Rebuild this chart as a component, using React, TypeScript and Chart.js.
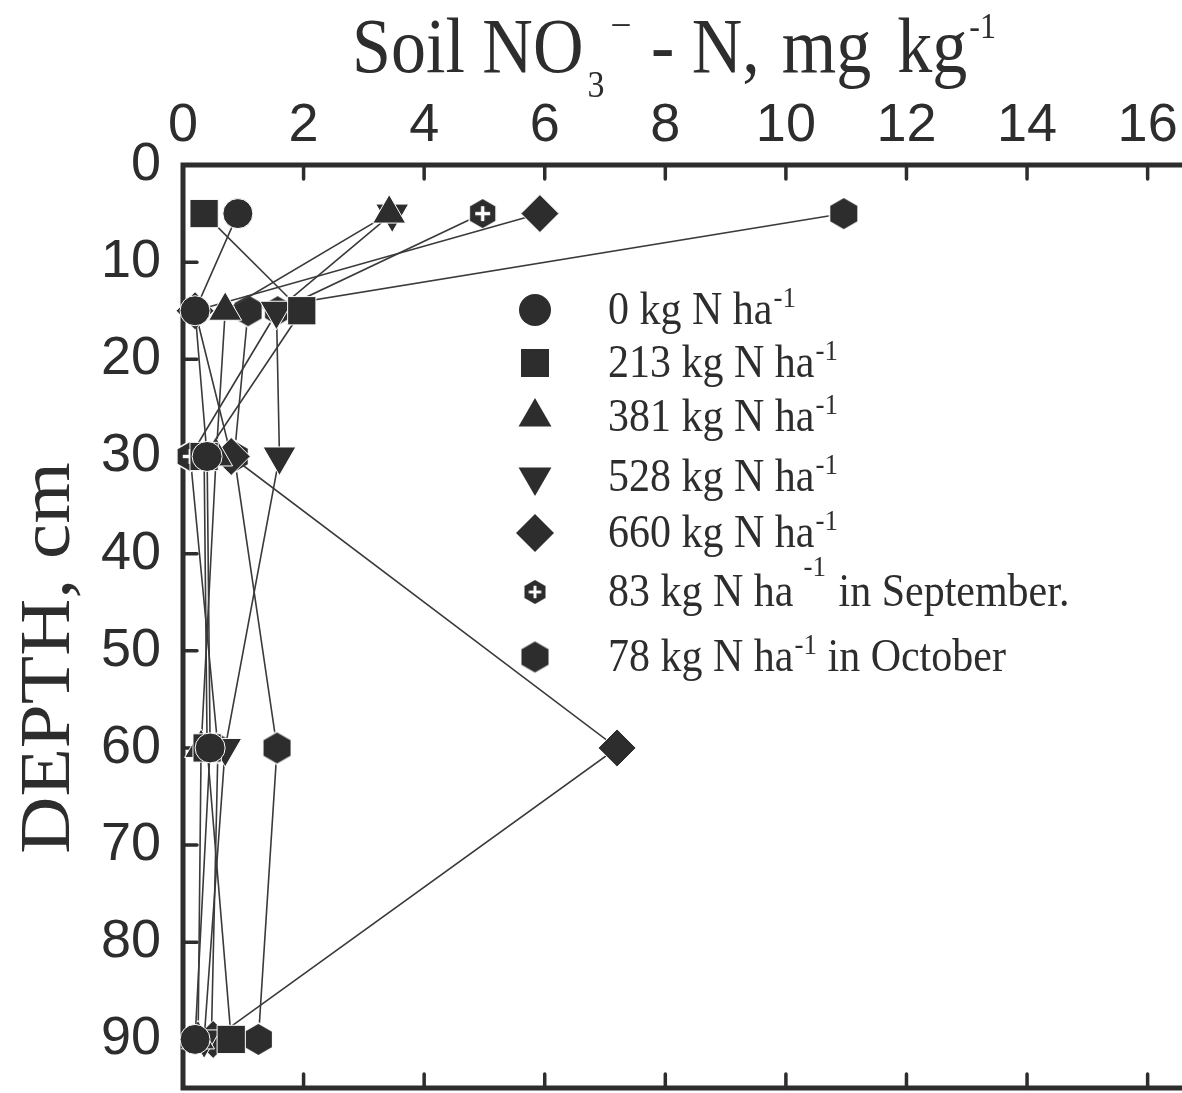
import React, { useEffect, useRef } from 'react';
import { Chart, registerables } from 'chart.js';

Chart.register(...registerables);

// ---------------- data ----------------
const depths = [5, 15, 30, 60, 90];
const xTickStep = 2;
const yTickStep = 10;
const xMin = 0;
const xMaxShown = 16;
const yMax = 95;

const seriesNames = [
  '0 kg N ha',
  '213 kg N ha',
  '381 kg N ha',
  '528 kg N ha',
  '660 kg N ha',
  '83 kg N ha',
  '78 kg N ha',
];
const seriesTails = ['', '', '', '', '', ' in September.', ' in October'];

const n0 = [0.91, 0.2, 0.4, 0.45, 0.2];
const n213 = [0.35, 1.97, 0.35, 0.4, 0.8];
const n381 = [3.42, 0.7, 0.55, 0.3, 0.25];
const n528 = [3.47, 1.55, 1.6, 0.7, 0.35];
const n660 = [5.92, 0.2, 0.8, 7.2, 0.5];
const n83Sep = [4.97, 1.57, 0.12, 0.58, 0.47];
const n78Oct = [10.96, 1.08, 0.85, 1.56, 1.25];

const seriesValues = [n0, n213, n381, n528, n660, n83Sep, n78Oct];

// ---------------- style ----------------
const INK = '#2d2d2d';
const LINE = '#3a3a3a';
const SERIF = "'Liberation Serif', 'Times New Roman', serif";
const SANS = "'Liberation Sans', Arial, sans-serif";

function makeHex(h: number, plus: boolean): HTMLCanvasElement {
  const w = (Math.sqrt(3) / 2) * h;
  const pad = 3;
  const c = document.createElement('canvas');
  c.width = Math.ceil(w + pad * 2);
  c.height = Math.ceil(h + pad * 2);
  const ctx = c.getContext('2d')!;
  const cx = c.width / 2;
  const cy = c.height / 2;
  ctx.beginPath();
  ctx.moveTo(cx, cy - h / 2);
  ctx.lineTo(cx + w / 2, cy - h / 4);
  ctx.lineTo(cx + w / 2, cy + h / 4);
  ctx.lineTo(cx, cy + h / 2);
  ctx.lineTo(cx - w / 2, cy + h / 4);
  ctx.lineTo(cx - w / 2, cy - h / 4);
  ctx.closePath();
  ctx.fillStyle = INK;
  ctx.fill();
  ctx.strokeStyle = '#ffffff';
  ctx.lineWidth = 1.5;
  ctx.stroke();
  if (plus) {
    const arm = h * 0.24;
    const t = Math.max(2.5, h * 0.11);
    ctx.fillStyle = '#ffffff';
    ctx.fillRect(cx - arm, cy - t / 2, arm * 2, t);
    ctx.fillRect(cx - t / 2, cy - arm, t, arm * 2);
  }
  return c;
}

type Part = { text: string; size: number; dy: number; gap?: number };

function drawParts(ctx: CanvasRenderingContext2D, parts: Part[], x: number, baseline: number, sy: number) {
  ctx.save();
  ctx.translate(x, baseline);
  ctx.scale(1, sy);
  ctx.fillStyle = INK;
  ctx.textBaseline = 'alphabetic';
  ctx.textAlign = 'left';
  let cx = 0;
  for (const p of parts) {
    cx += p.gap || 0;
    ctx.font = `${p.size}px ${SERIF}`;
    ctx.fillText(p.text, cx, p.dy);
    cx += ctx.measureText(p.text).width;
  }
  ctx.restore();
}

function drawLegendMarker(ctx: CanvasRenderingContext2D, i: number, x: number, y: number, hexPlusSmall: HTMLCanvasElement, hexLegend: HTMLCanvasElement) {
  ctx.save();
  ctx.fillStyle = INK;
  ctx.beginPath();
  if (i === 0) {
    ctx.arc(x, y, 16, 0, Math.PI * 2);
    ctx.fill();
  } else if (i === 1) {
    ctx.fillRect(x - 14, y - 14, 28, 28);
  } else if (i === 2) {
    const r = 19;
    ctx.moveTo(x, y - r);
    ctx.lineTo(x + r * 0.866, y + r * 0.5);
    ctx.lineTo(x - r * 0.866, y + r * 0.5);
    ctx.closePath();
    ctx.fill();
  } else if (i === 3) {
    const r = 19;
    ctx.moveTo(x, y + r);
    ctx.lineTo(x + r * 0.866, y - r * 0.5);
    ctx.lineTo(x - r * 0.866, y - r * 0.5);
    ctx.closePath();
    ctx.fill();
  } else if (i === 4) {
    const r = 19;
    ctx.moveTo(x, y - r);
    ctx.lineTo(x + r, y);
    ctx.lineTo(x, y + r);
    ctx.lineTo(x - r, y);
    ctx.closePath();
    ctx.fill();
  } else if (i === 5) {
    ctx.drawImage(hexPlusSmall, x - hexPlusSmall.width / 2, y - hexPlusSmall.height / 2);
  } else {
    ctx.drawImage(hexLegend, x - hexLegend.width / 2, y - hexLegend.height / 2);
  }
  ctx.restore();
}

export default function App() {
  const ref = useRef<HTMLCanvasElement | null>(null);

  useEffect(() => {
    document.body.style.margin = '0';
    document.body.style.background = '#ffffff';
    const canvas = ref.current;
    if (!canvas) return;

    const hexPlus = makeHex(31, true);
    const hexDark = makeHex(33, false);
    const hexPlusSmall = makeHex(26, true);
    const hexLegend = makeHex(33, false);

    const pointStyles: any[] = ['circle', 'rect', 'triangle', 'triangle', 'rectRot', hexPlus, hexDark];
    const pointRadii = [15, 20, 19, 19, 19, 15, 15];
    const pointRotations = [0, 0, 0, 180, 0, 0, 0];

    const datasets = seriesValues.map((vals, i) => ({
      label: seriesNames[i] + seriesTails[i],
      data: vals.map((v, k) => ({ x: v, y: depths[k] })),
      showLine: true,
      borderColor: LINE,
      borderWidth: 1.6,
      backgroundColor: INK,
      pointBackgroundColor: INK,
      pointBorderColor: '#ffffff',
      pointBorderWidth: 1,
      pointStyle: pointStyles[i],
      pointRadius: pointRadii[i],
      pointRotation: pointRotations[i],
      pointHoverRadius: pointRadii[i],
      tension: 0,
      clip: false,
    }));

    const framePlugin = {
      id: 'frame',
      beforeDatasetsDraw(chart: any) {
        const { ctx, chartArea } = chart;
        const xs = chart.scales.x;
        const ys = chart.scales.y;
        ctx.save();
        ctx.strokeStyle = INK;
        ctx.lineWidth = 5;
        ctx.lineCap = 'square';
        ctx.beginPath();
        ctx.moveTo(chartArea.right + 5, chartArea.top);
        ctx.lineTo(chartArea.left, chartArea.top);
        ctx.lineTo(chartArea.left, chartArea.bottom);
        ctx.lineTo(chartArea.right + 5, chartArea.bottom);
        ctx.stroke();
        ctx.lineWidth = 3.5;
        ctx.lineCap = 'round';
        ctx.beginPath();
        for (const t of xs.ticks) {
          if (t.value <= xMin || t.value > xMaxShown) continue;
          const px = xs.getPixelForValue(t.value);
          ctx.moveTo(px, chartArea.top);
          ctx.lineTo(px, chartArea.top + 14);
          ctx.moveTo(px, chartArea.bottom);
          ctx.lineTo(px, chartArea.bottom - 14);
        }
        for (const t of ys.ticks) {
          if (t.value <= 0) continue;
          const py = ys.getPixelForValue(t.value);
          ctx.moveTo(chartArea.left, py);
          ctx.lineTo(chartArea.left + 14, py);
        }
        ctx.stroke();
        ctx.restore();
      },
    };

    const textPlugin = {
      id: 'texts',
      afterDraw(chart: any) {
        const ctx: CanvasRenderingContext2D = chart.ctx;
        // Title above the top axis
        drawParts(
          ctx,
          [
            { text: 'Soil NO', size: 70, dy: 0 },
            { text: '3', size: 34, dy: 22, gap: 4 },
            { text: '\u2013', size: 34, dy: -34, gap: 8 },
            { text: ' - N,', size: 70, dy: 0, gap: 4 },
            { text: 'mg', size: 70, dy: 0, gap: 22 },
            { text: 'kg', size: 70, dy: 0, gap: 26 },
            { text: '-1', size: 32, dy: -30, gap: 2 },
          ],
          352,
          72,
          1.12
        );
        // Y axis title
        ctx.save();
        ctx.translate(50, 658);
        ctx.rotate(-Math.PI / 2);
        ctx.scale(1.1, 1);
        ctx.fillStyle = INK;
        ctx.font = `72px ${SERIF}`;
        ctx.textAlign = 'center';
        ctx.textBaseline = 'middle';
        ctx.fillText('DEPTH, cm', 0, 0);
        ctx.restore();
        // Legend
        const rows = [310, 363, 417, 477, 533, 592, 657];
        const mx = 535;
        const tx = 608;
        seriesNames.forEach((name, i) => {
          const y = rows[i];
          drawLegendMarker(ctx, i, mx, y, hexPlusSmall, hexLegend);
          const parts: Part[] = [{ text: name, size: 42, dy: 0 }];
          if (i === 5) {
            parts.push({ text: '-1', size: 27, dy: -27, gap: 10 });
          } else {
            parts.push({ text: '-1', size: 27, dy: -15, gap: 1 });
          }
          if (seriesTails[i]) parts.push({ text: seriesTails[i], size: 42, dy: 0, gap: i === 5 ? 2 : 0 });
          drawParts(ctx, parts, tx, y + 14, 1.12);
        });
      },
    };

    const chart = new Chart(canvas, {
      type: 'scatter',
      data: { datasets: datasets as any },
      options: {
        animation: false,
        responsive: false,
        maintainAspectRatio: false,
        layout: { autoPadding: false, padding: { left: 0, right: 0, top: 0, bottom: 5 } },
        plugins: {
          legend: { display: false },
          title: { display: false },
          tooltip: { enabled: false },
        },
        events: [],
        scales: {
          x: {
            type: 'linear',
            position: 'top',
            min: xMin,
            max: 16.57,
            grid: { display: false, drawTicks: false },
            border: { display: false },
            ticks: {
              stepSize: xTickStep,
              includeBounds: false,
              maxRotation: 0,
              autoSkip: false,
              padding: 6,
              color: INK,
              font: { family: SANS, size: 54 },
            },
            afterFit: (s: any) => {
              s.height = 165;
              s.paddingLeft = 0;
              s.paddingRight = 0;
            },
          },
          y: {
            type: 'linear',
            reverse: true,
            min: 0,
            max: yMax,
            grid: { display: false, drawTicks: false },
            border: { display: false },
            ticks: {
              stepSize: yTickStep,
              includeBounds: false,
              autoSkip: false,
              padding: 22,
              color: INK,
              font: { family: SANS, size: 54 },
            },
            afterFit: (s: any) => {
              s.width = 183;
              s.paddingTop = 0;
              s.paddingBottom = 0;
            },
          },
        },
      } as any,
      plugins: [framePlugin, textPlugin],
    });

    return () => {
      chart.destroy();
    };
  }, []);

  return (
    <div style={{ width: 1182, height: 1093, overflow: 'hidden', background: '#fff' }}>
      <canvas ref={ref} width={1182} height={1093} style={{ display: 'block', width: 1182, height: 1093 }} />
    </div>
  );
}
